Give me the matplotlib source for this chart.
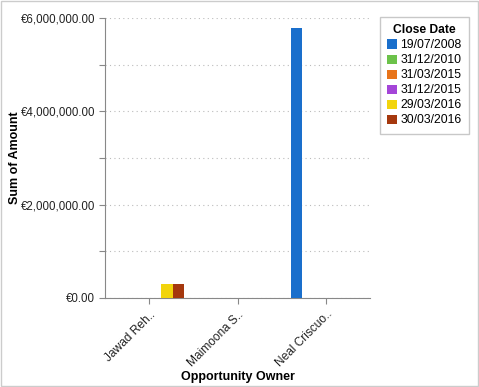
import matplotlib
matplotlib.use("Agg")
import matplotlib.pyplot as plt
import numpy as np
from matplotlib.ticker import FuncFormatter, MultipleLocator

plt.rcParams['font.family'] = ['Liberation Sans', 'DejaVu Sans']

owners = ["Jawad Reh..", "Maimoona S..", "Neal Criscuo.."]
dates = ["19/07/2008", "31/12/2010", "31/03/2015", "31/12/2015", "29/03/2016", "30/03/2016"]
colors = ["#1a6fcc", "#6cc24a", "#e8741a", "#a445d8", "#f2d40c", "#a5380e"]
values = {
    "19/07/2008": [0, 0, 5780000],
    "31/12/2010": [0, 0, 0],
    "31/03/2015": [0, 0, 0],
    "31/12/2015": [0, 0, 0],
    "29/03/2016": [300000, 0, 0],
    "30/03/2016": [300000, 0, 0],
}

fig = plt.figure(figsize=(4.79, 3.87), dpi=100)
ax = fig.add_axes([105/479, 1-298/387, 265/479, 280/387])

x = np.arange(len(owners))
bw = 0.133
start = -0.40
for i, d in enumerate(dates):
    ax.bar(x + start + i*bw, values[d], width=bw, align='edge', color=colors[i], label=d, zorder=3)

ax.set_xlim(-0.5, 2.5)
ax.set_ylim(0, 6000000)
ax.yaxis.set_major_locator(MultipleLocator(1000000))
ax.yaxis.set_major_formatter(FuncFormatter(lambda v, p: ("€{:,.2f}".format(v) if int(round(v/1e6)) % 2 == 0 else "")))
ax.grid(axis='y', linestyle=(0, (1, 3)), color='#bbbbbb', linewidth=0.8, zorder=0)
ax.set_xticks(x)
ax.set_xticklabels(owners, rotation=45, ha='right', rotation_mode='anchor', fontsize=8.6, color='#222222')
ax.tick_params(axis='y', labelsize=8.3, labelcolor='#222222', color='#888888', length=4, pad=3)
ax.tick_params(axis='x', color='#888888', length=4)
for s in ['top', 'right']:
    ax.spines[s].set_visible(False)
for s in ['left', 'bottom']:
    ax.spines[s].set_color('#888888')
ax.set_xlabel("Opportunity Owner", fontsize=9, fontweight='bold', labelpad=1)
ax.set_ylabel("Sum of Amount", fontsize=9, fontweight='bold')
ax.yaxis.set_label_coords(-0.318, 0.5)

leg = fig.legend(title="Close Date", loc='upper left', bbox_to_anchor=(374/479, 1-11/387),
                 fontsize=8.7, title_fontproperties={'weight': 'bold', 'size': 8.7},
                 handlelength=0.8, handleheight=0.8, handletextpad=0.3, labelspacing=0.25,
                 frameon=True, fancybox=False, edgecolor='#bbbbbb', borderpad=0.6)

fig.patches.append(plt.Rectangle((0.002, 0.002), 0.996, 0.996, transform=fig.transFigure,
                                 fill=False, edgecolor='#cccccc', linewidth=1))
fig.savefig("out.png", dpi=100)
